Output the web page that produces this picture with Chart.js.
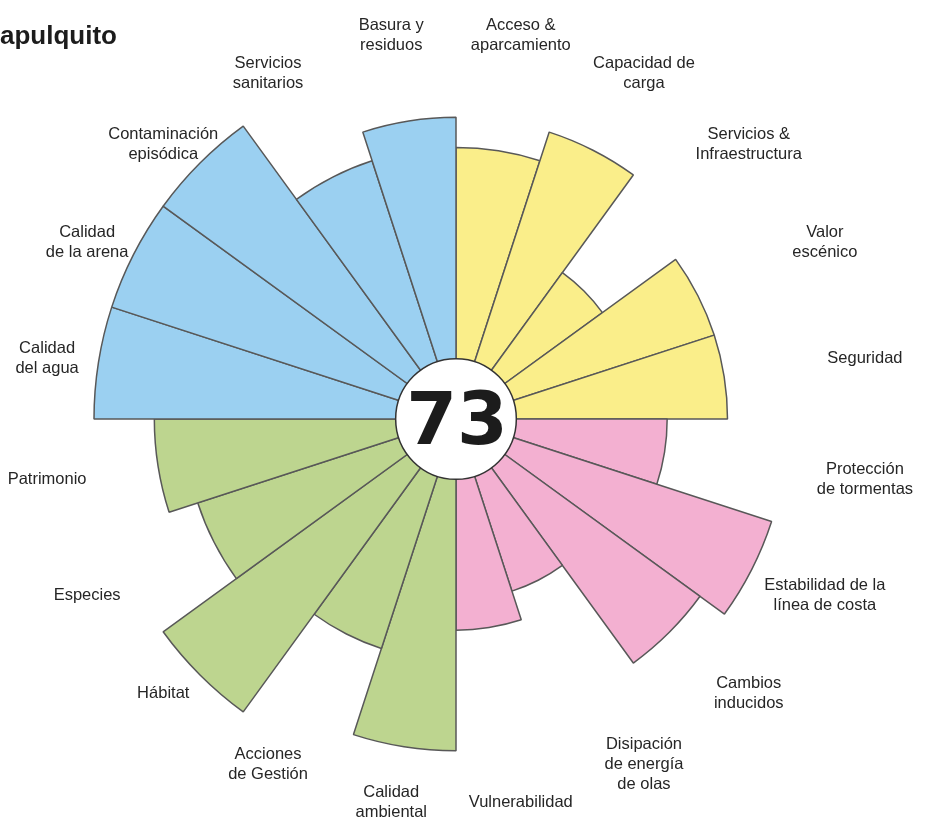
<!DOCTYPE html>
<html>
<head>
<meta charset="utf-8">
<title>Acapulquito</title>
<script src="https://cdn.jsdelivr.net/npm/chart.js@4.4.1/dist/chart.umd.min.js"></script>
<style>
	html, body { margin: 0; padding: 0; background: #fff; }
	#wrap { width: 933px; height: 818px; }
</style>
</head>
<body>
<div id="wrap"><canvas id="flower-chart" width="933" height="818"></canvas></div>
<script>
// categorias, empezando arriba y en sentido horario
var labels = [
	['Acceso &', 'aparcamiento'],
	['Capacidad de', 'carga'],
	['Servicios &', 'Infraestructura'],
	['Valor', 'escénico'],
	['Seguridad'],
	['Protección', 'de tormentas'],
	['Estabilidad de la', 'línea de costa'],
	['Cambios', 'inducidos'],
	['Disipación', 'de energía', 'de olas'],
	['Vulnerabilidad'],
	['Calidad', 'ambiental'],
	['Acciones', 'de Gestión'],
	['Hábitat'],
	['Especies'],
	['Patrimonio'],
	['Calidad', 'del agua'],
	['Calidad', 'de la arena'],
	['Contaminación', 'episódica'],
	['Servicios', 'sanitarios'],
	['Basura y', 'residuos']
];
var scores = [70, 80, 40, 70, 70, 50, 90, 80, 40, 50, 90, 60, 100, 70, 80, 100, 100, 100, 70, 80];
// 0 = uso, 1 = proteccion, 2 = ambiente, 3 = calidad
var groupOf = [0, 0, 0, 0, 0, 1, 1, 1, 1, 1, 2, 2, 2, 2, 2, 3, 3, 3, 3, 3];
var totalScore = 73;
var placeName = 'apulquito';
var scaleMin = -20, scaleMax = 100;

var groupColors = ['#faee8a', '#f3b0d1', '#bdd58f', '#9bd0f1'];

var flowerText = {
	id: 'flowerText',
	afterDatasetsDraw: function(chart) {
		var ctx = chart.ctx;
		var r = chart.scales.r;
		var rad = r.getDistanceFromCenterForValue(0);

		ctx.save();
		// circulo central
		ctx.beginPath();
		ctx.arc(r.xCenter, r.yCenter, rad, 0, Math.PI * 2);
		ctx.fillStyle = '#fff';
		ctx.fill();
		ctx.lineWidth = 1.5;
		ctx.strokeStyle = '#333';
		ctx.stroke();

		ctx.fillStyle = '#1c1c1c';
		ctx.font = 'bold 73px "DejaVu Sans"';
		ctx.textAlign = 'center';
		ctx.textBaseline = 'alphabetic';
		ctx.fillText(String(totalScore), r.xCenter + 1, r.yCenter + 25);

		// etiquetas sobre una elipse alrededor de la flor
		ctx.font = '16.5px "Liberation Sans", Arial, sans-serif';
		ctx.fillStyle = '#262626';
		ctx.textBaseline = 'middle';
		var lh = 20;
		var rx = r.drawingArea + 52, ry = r.drawingArea + 26;
		for (var i = 0; i < labels.length; i++) {
			var a = r.getIndexAngle(i + 0.5);
			var px = r.xCenter + rx * Math.sin(a);
			var py = r.yCenter - ry * Math.cos(a);
			var lines = labels[i];
			var y0 = py - (lines.length - 1) * lh / 2;
			for (var j = 0; j < lines.length; j++) {
				ctx.fillText(lines[j], px, y0 + j * lh);
			}
		}

		// titulo
		ctx.font = 'bold 26px "Liberation Sans", Arial, sans-serif';
		ctx.fillStyle = '#1c1c1c';
		ctx.textAlign = 'left';
		ctx.textBaseline = 'alphabetic';
		ctx.fillText(placeName, 0, 44);
		ctx.restore();
	}
};

new Chart(document.getElementById('flower-chart'), {
	type: 'polarArea',
	data: {
		labels: labels,
		datasets: [{
			data: scores,
			backgroundColor: groupOf.map(function(g) { return groupColors[g]; }),
			borderColor: '#585858',
			borderWidth: 1.5
		}]
	},
	options: {
		responsive: false,
		animation: false,
		events: [],
		layout: { padding: { left: 94, right: 115, top: 57, bottom: 37 } },
		plugins: {
			legend: { display: false },
			tooltip: { enabled: false }
		},
		scales: {
			r: {
				min: scaleMin,
				max: scaleMax,
				ticks: { display: false },
				grid: { display: false },
				angleLines: { display: false },
				pointLabels: { display: false }
			}
		}
	},
	plugins: [flowerText]
});
</script>
</body>
</html>
